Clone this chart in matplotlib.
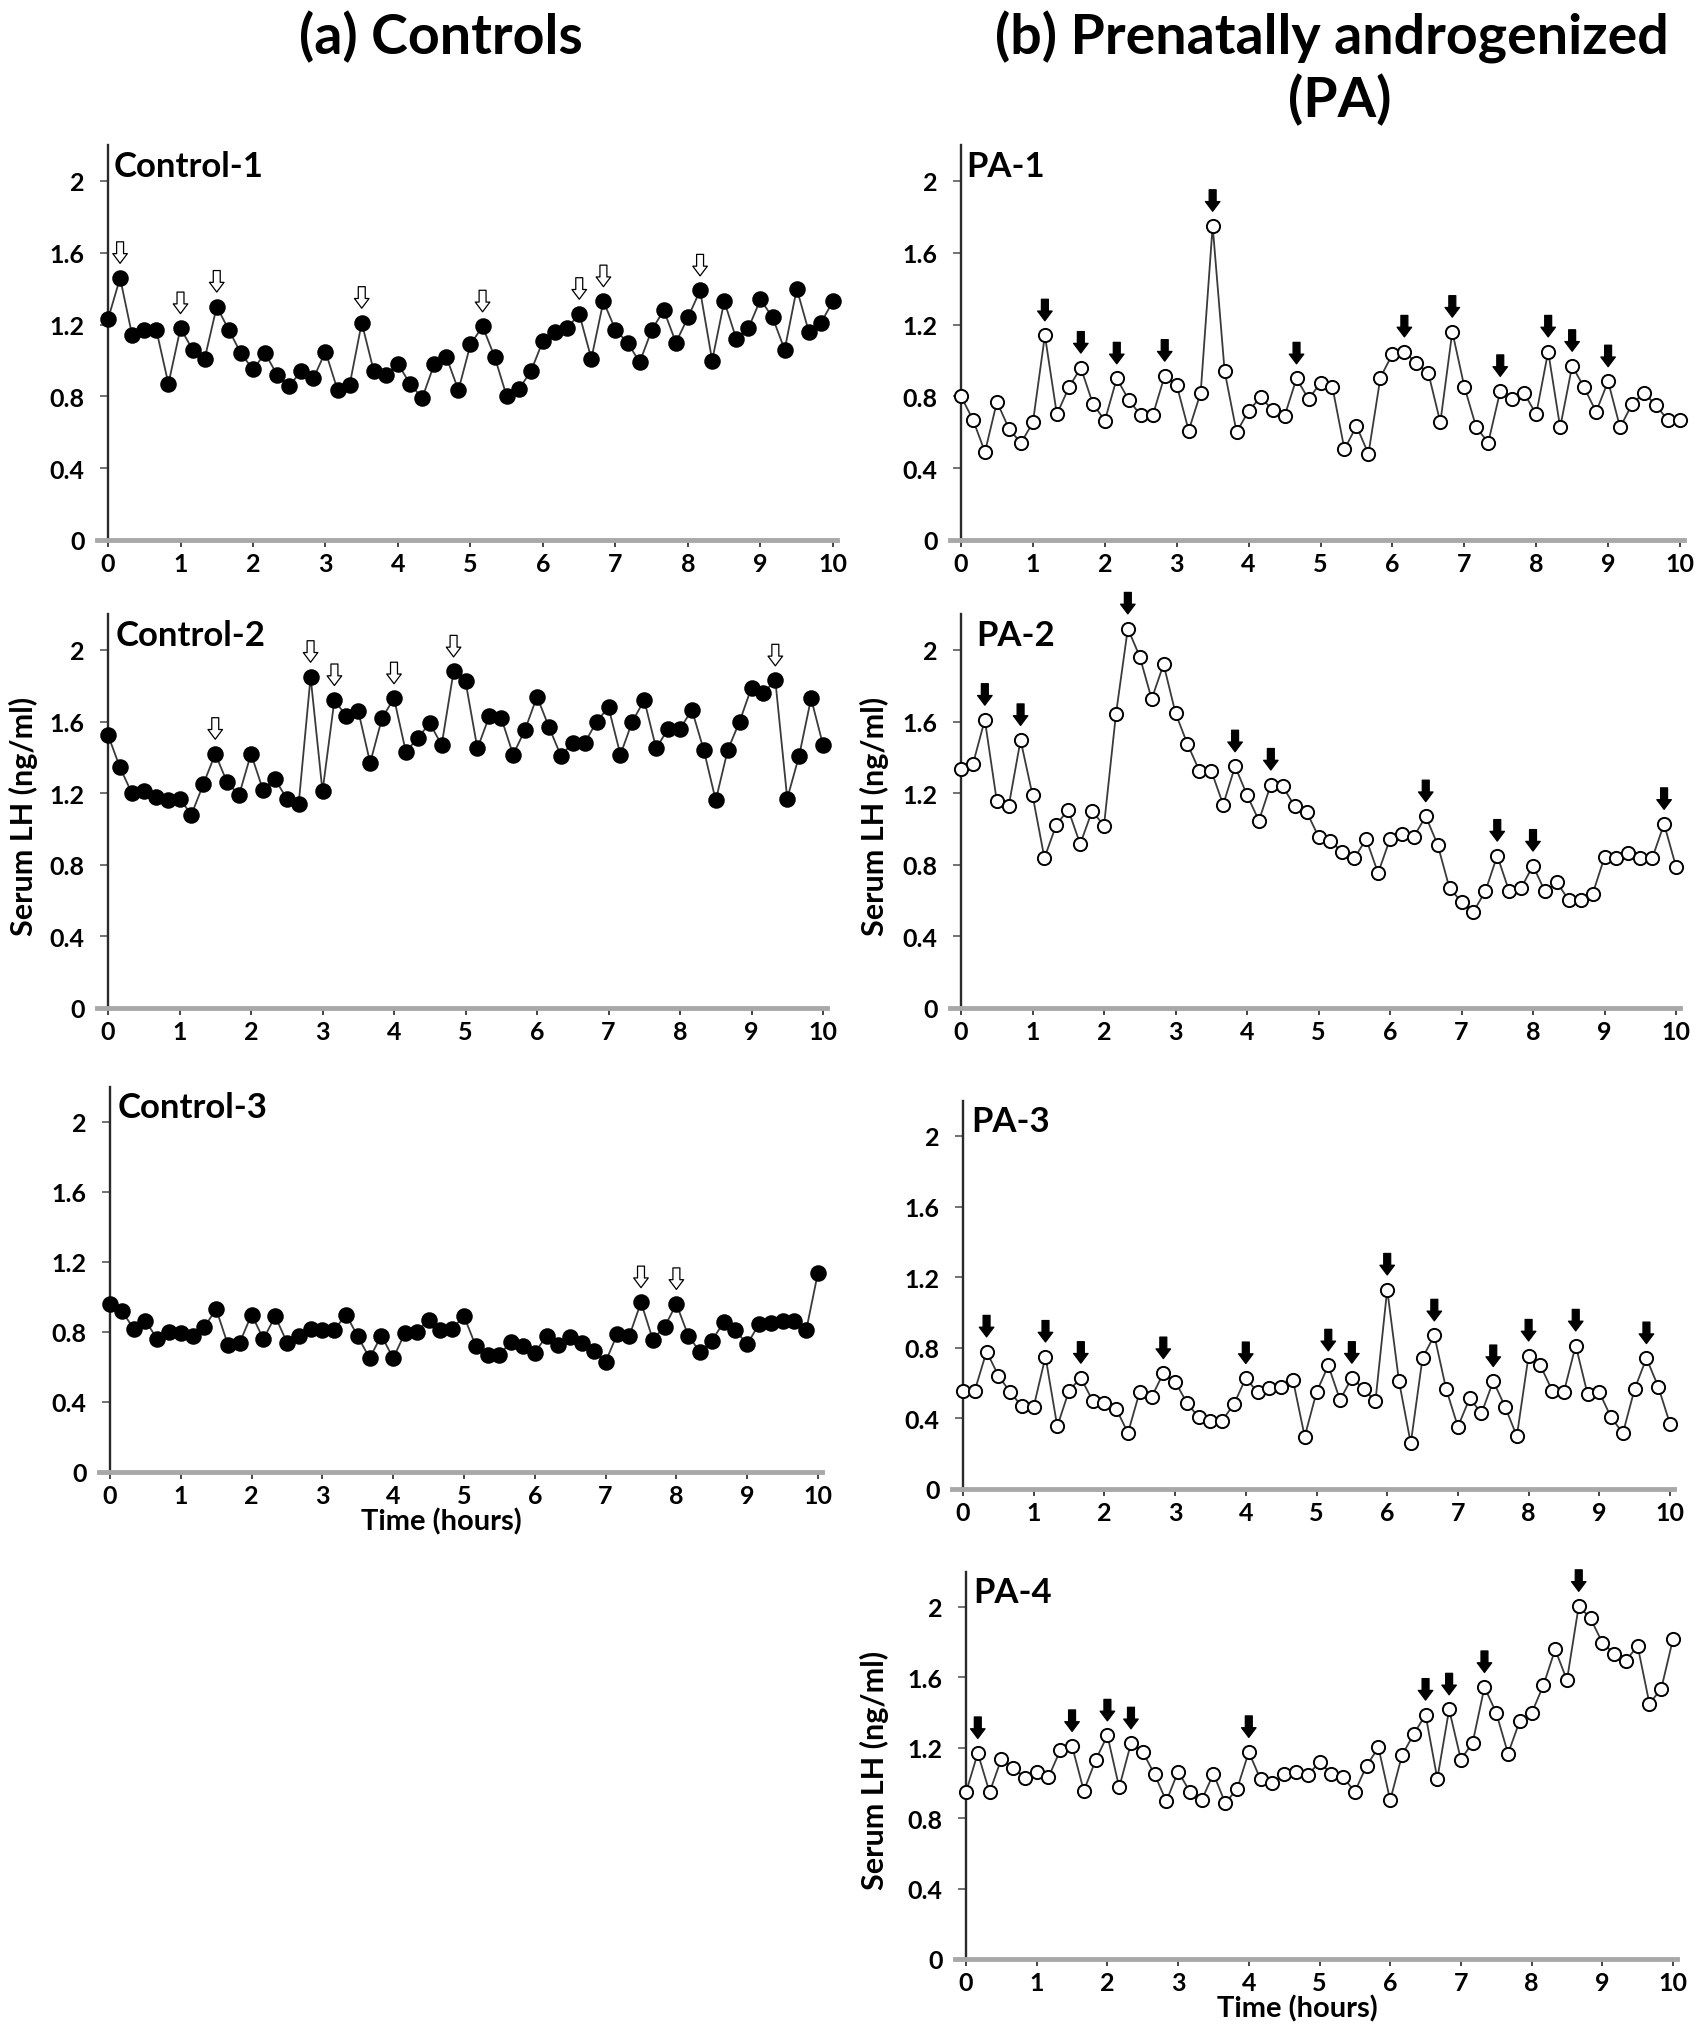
import numpy as np
import matplotlib.pyplot as plt

plt.rcParams['font.family'] = ['Lato', 'DejaVu Sans']
plt.rcParams['font.weight'] = 'bold'

# blood sampled every 10 min for 10 h
hours = np.arange(0, 601, 10) / 60

# serum LH (ng/ml)
control_1 = [1.23, 1.46, 1.14, 1.17, 1.17, 0.87, 1.18, 1.06, 1.01, 1.30,
             1.17, 1.04, 0.95, 1.04, 0.92, 0.86, 0.94, 0.90, 1.05, 0.835,
             0.865, 1.21, 0.94, 0.92, 0.98, 0.87, 0.79, 0.98, 1.02, 0.835,
             1.09, 1.19, 1.02, 0.80, 0.84, 0.94, 1.11, 1.16, 1.18, 1.26,
             1.01, 1.33, 1.17, 1.10, 0.99, 1.17, 1.28, 1.10, 1.24, 1.39,
             1.00, 1.33, 1.12, 1.18, 1.34, 1.24, 1.06, 1.40, 1.16, 1.21, 1.33]
control_2 = [1.525, 1.345, 1.20, 1.21, 1.18, 1.16, 1.17, 1.08, 1.25, 1.42,
             1.26, 1.19, 1.42, 1.22, 1.28, 1.17, 1.14, 1.85, 1.21, 1.72,
             1.63, 1.66, 1.37, 1.62, 1.73, 1.43, 1.51, 1.59, 1.47, 1.88,
             1.825, 1.45, 1.63, 1.62, 1.415, 1.555, 1.74, 1.57, 1.41, 1.48,
             1.48, 1.60, 1.68, 1.415, 1.60, 1.72, 1.45, 1.56, 1.56, 1.665,
             1.44, 1.16, 1.44, 1.60, 1.79, 1.76, 1.83, 1.17, 1.41, 1.73, 1.47]
control_3 = [0.96, 0.92, 0.82, 0.865, 0.76, 0.80, 0.795, 0.78, 0.83, 0.93,
             0.726, 0.74, 0.90, 0.76, 0.89, 0.74, 0.78, 0.82, 0.81, 0.81,
             0.90, 0.775, 0.65, 0.78, 0.65, 0.795, 0.80, 0.87, 0.81, 0.82,
             0.89, 0.72, 0.67, 0.67, 0.745, 0.72, 0.68, 0.78, 0.726, 0.77,
             0.74, 0.69, 0.63, 0.79, 0.775, 0.97, 0.757, 0.83, 0.96, 0.78,
             0.685, 0.75, 0.855, 0.81, 0.73, 0.845, 0.85, 0.865, 0.865, 0.81, 1.14]
pa_1 = [0.80, 0.67, 0.49, 0.77, 0.62, 0.54, 0.655, 1.14, 0.70, 0.85,
        0.96, 0.76, 0.665, 0.90, 0.78, 0.695, 0.695, 0.915, 0.863, 0.61,
        0.82, 1.75, 0.94, 0.60, 0.72, 0.795, 0.725, 0.69, 0.90, 0.785,
        0.875, 0.85, 0.505, 0.635, 0.48, 0.905, 1.036, 1.05, 0.985, 0.93,
        0.655, 1.16, 0.855, 0.627, 0.543, 0.83, 0.785, 0.817, 0.70, 1.05,
        0.627, 0.97, 0.85, 0.714, 0.884, 0.627, 0.757, 0.82, 0.75, 0.667, 0.667]
pa_2 = [1.335, 1.363, 1.61, 1.158, 1.127, 1.497, 1.19, 0.838, 1.024, 1.108,
        0.916, 1.10, 1.019, 1.64, 2.12, 1.963, 1.726, 1.92, 1.648, 1.475,
        1.326, 1.326, 1.136, 1.35, 1.19, 1.047, 1.248, 1.238, 1.127, 1.097,
        0.957, 0.931, 0.873, 0.836, 0.944, 0.754, 0.944, 0.972, 0.957, 1.071,
        0.912, 0.668, 0.594, 0.538, 0.652, 0.851, 0.652, 0.670, 0.795, 0.652,
        0.702, 0.603, 0.603, 0.637, 0.842, 0.836, 0.864, 0.836, 0.836, 1.028, 0.79]
pa_3 = [0.558, 0.558, 0.779, 0.643, 0.548, 0.469, 0.467, 0.75, 0.355, 0.558,
        0.63, 0.50, 0.488, 0.454, 0.318, 0.552, 0.52, 0.656, 0.609, 0.488,
        0.406, 0.388, 0.388, 0.482, 0.628, 0.548, 0.571, 0.58, 0.618, 0.297,
        0.548, 0.70, 0.505, 0.63, 0.567, 0.497, 1.13, 0.611, 0.259, 0.743,
        0.87, 0.567, 0.353, 0.514, 0.429, 0.611, 0.467, 0.299, 0.756, 0.70,
        0.558, 0.552, 0.813, 0.539, 0.548, 0.406, 0.316, 0.567, 0.741, 0.58, 0.369]
pa_4 = [0.947, 1.17, 0.947, 1.137, 1.088, 1.03, 1.065, 1.033, 1.186, 1.21,
        0.955, 1.13, 1.27, 0.975, 1.225, 1.176, 1.05, 0.896, 1.065, 0.951,
        0.902, 1.053, 0.886, 0.965, 1.176, 1.02, 1.00, 1.05, 1.06, 1.045,
        1.118, 1.053, 1.033, 0.951, 1.098, 1.202, 0.902, 1.157, 1.278, 1.388,
        1.024, 1.418, 1.133, 1.23, 1.545, 1.398, 1.167, 1.353, 1.396, 1.555,
        1.759, 1.584, 2.006, 1.935, 1.798, 1.735, 1.696, 1.778, 1.451, 1.535, 1.818]

# sample indices of detected LH pulses (arrows)
control_1_pulses = [1, 6, 9, 21, 31, 39, 41, 49]
control_2_pulses = [9, 17, 19, 24, 29, 56]
control_3_pulses = [45, 48]
pa_1_pulses = [7, 10, 13, 17, 21, 28, 37, 41, 45, 49, 51, 54]
pa_2_pulses = [2, 5, 14, 23, 26, 39, 45, 48, 59]
pa_3_pulses = [2, 7, 10, 17, 24, 31, 33, 36, 40, 45, 48, 52, 58]
pa_4_pulses = [1, 9, 12, 14, 24, 39, 41, 44, 52]

W, H = 1697, 2040
fig = plt.figure(figsize=(W / 100, H / 100), dpi=100)


def panel(x0, x10, y0, y2, values, pulses, name, control,
          ylabel_px=None, xlabel=False, name_dx=0.08):
    # x0/x10: pixel x of t=0 and t=10, y0/y2: pixel y of LH=0 and LH=2
    hpx = (x10 - x0) / 10
    upx = (y0 - y2) / 2
    left = x0 - 0.15 * hpx
    right = x10 + 0.05 * hpx
    ax = fig.add_axes([left / W, 1 - y0 / H, (right - left) / W, 2.2 * upx / H])
    ax.set_xlim(-0.15, 10.05)
    ax.set_ylim(0, 2.2)

    for s in ['top', 'right']:
        ax.spines[s].set_visible(False)
    ax.spines['left'].set_position(('data', 0))
    ax.spines['left'].set_color('#2a2a2a')
    ax.spines['left'].set_linewidth(1.7)
    ax.spines['bottom'].set_color('#a8a8a8')
    ax.spines['bottom'].set_linewidth(3.5)

    ax.set_xticks(range(0, 11))
    ax.set_yticks([0, 0.4, 0.8, 1.2, 1.6, 2])
    ax.set_yticklabels(['0', '0.4', '0.8', '1.2', '1.6', '2'])
    ax.tick_params(axis='x', direction='out', length=5, width=1.4,
                   color='#444444', labelsize=18, pad=4)
    ax.tick_params(axis='y', direction='out', length=6, width=1.3,
                   color='#666666', labelsize=18, pad=11)

    fc = 'black' if control else 'white'
    ax.plot(hours, values, '-', color='#3a3a3a', lw=1.3, marker='o',
            ms=10.5 if control else 9.5, mfc=fc, mec='black', mew=1.4,
            zorder=3, clip_on=False)

    # hollow arrows for controls, solid for PA
    afc = 'white' if control else 'black'
    for i in pulses:
        ax.annotate('', xy=(hours[i], values[i]), xytext=(0, 26),
                    textcoords='offset points',
                    arrowprops=dict(arrowstyle='simple,head_length=0.7,head_width=1.05,tail_width=0.5',
                                    fc=afc, ec='black', lw=0.9, shrinkA=0, shrinkB=10.5))

    ax.text(name_dx, 2.03, name, fontsize=25, fontweight='bold', va='baseline')
    if ylabel_px is not None:
        ax.set_ylabel('Serum LH (ng/ml)', fontsize=22, fontweight='bold')
        ax.yaxis.set_label_coords((ylabel_px - left) / (right - left), 0.49)
    if xlabel:
        ax.set_xlabel('Time (hours)', fontsize=21, fontweight='bold',
                      labelpad=0, x=0.474)
    return ax


panel(108, 833, 541, 182, control_1, control_1_pulses, 'Control-1', True, name_dx=0.08)
panel(108, 823, 1009, 651, control_2, control_2_pulses, 'Control-2', True,
      ylabel_px=38, name_dx=0.1)
panel(110, 818, 1473, 1123, control_3, control_3_pulses, 'Control-3', True,
      xlabel=True, name_dx=0.11)
panel(961, 1680, 541, 182, pa_1, pa_1_pulses, 'PA-1', False, name_dx=0.07)
panel(961, 1676, 1009, 651, pa_2, pa_2_pulses, 'PA-2', False,
      ylabel_px=889, name_dx=0.21)
panel(963, 1670, 1490, 1137, pa_3, pa_3_pulses, 'PA-3', False, name_dx=0.11)
panel(966, 1673, 1960, 1608, pa_4, pa_4_pulses, 'PA-4', False,
      ylabel_px=889, xlabel=True, name_dx=0.1)

fig.text(441 / W, 1 - 37 / H, '(a) Controls', fontsize=40, fontweight='bold',
         ha='center', va='center')
fig.text(1332 / W, 1 - 37 / H, '(b) Prenatally androgenized', fontsize=40,
         fontweight='bold', ha='center', va='center')
fig.text(1340 / W, 1 - 100 / H, '(PA)', fontsize=40, fontweight='bold',
         ha='center', va='center')

fig.savefig('out.png', dpi=100, facecolor='white')
